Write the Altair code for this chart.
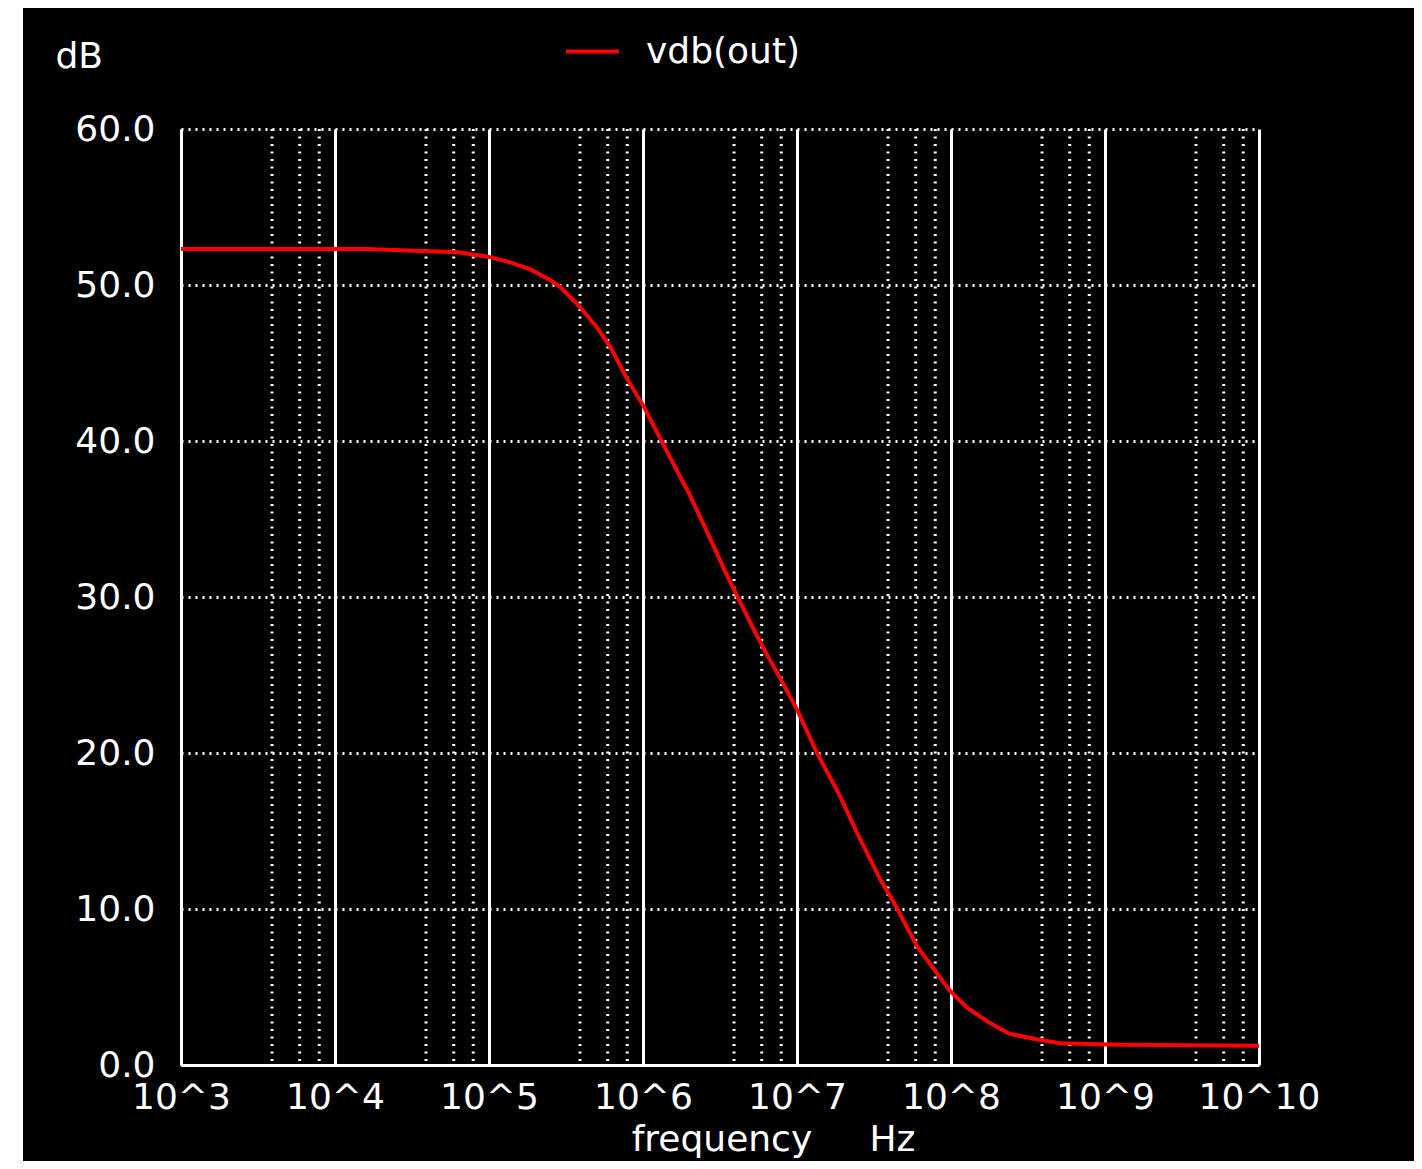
import altair as alt
import pandas as pd

# ---- data (ngspice AC analysis) ----
freq_hz = [1.0e3, 1.58e4, 6.31e4, 1.0e5, 1.32e5, 1.86e5, 2.51e5, 2.88e5, 3.39e5,
           3.89e5, 5.01e5, 6.17e5, 7.76e5, 1.0e6, 1.32e6, 1.66e6, 2.0e6, 2.57e6,
           3.47e6, 4.07e6, 5.25e6, 6.31e6, 7.76e6, 1.0e7, 1.35e7, 1.91e7, 2.45e7,
           3.47e7, 4.27e7, 6.03e7, 9.77e7, 1.26e8, 1.78e8, 2.40e8, 3.80e8, 5.13e8,
           1.26e9, 1.0e10]
vdb_out = [52.3, 52.3, 52.1, 51.8, 51.5, 51.0, 50.3, 49.9, 49.2,
           48.6, 47.3, 46.0, 44.1, 42.3, 40.0, 38.1, 36.6, 34.3,
           31.5, 30.1, 27.9, 26.4, 24.8, 22.8, 20.0, 17.2, 14.9,
           11.9, 10.4, 7.6, 4.8, 3.7, 2.7, 2.0, 1.6, 1.4,
           1.3, 1.24]
series_name = "vdb(out)"

x_tick_values = [1e3, 1e4, 1e5, 1e6, 1e7, 1e8, 1e9, 1e10]
x_tick_labels = ["10^3", "10^4", "10^5", "10^6", "10^7", "10^8", "10^9", "10^10"]
y_tick_values = [0, 10, 20, 30, 40, 50, 60]
minor_multipliers = [3.9, 5.9, 7.9]

FONT = "DejaVu Sans"
FS = 36

df = pd.DataFrame({"freq": freq_hz, "db": vdb_out, "series": series_name})
minor_values = [d * m for d in x_tick_values[:-1] for m in minor_multipliers]

label_expr = "[{}][indexof([{}], datum.value)]".format(
    ",".join("'%s'" % l for l in x_tick_labels),
    ",".join(repr(float(v)) for v in x_tick_values),
)

x_scale = alt.Scale(type="log", domain=[x_tick_values[0], x_tick_values[-1]], nice=False)

left_strip = alt.Chart(alt.Data(values=[{"a": 1}])).mark_rect(
    color="white", clip=False
).encode(
    x=alt.value(-173), x2=alt.value(-158), y=alt.value(-121), y2=alt.value(1032)
)

minor = alt.Chart(pd.DataFrame({"freq": minor_values})).mark_rule(
    color="white", strokeWidth=3, strokeDash=[2, 5.5]
).encode(x=alt.X("freq:Q", scale=x_scale, axis=None))

line = alt.Chart(df).mark_line(strokeWidth=4).encode(
    x=alt.X(
        "freq:Q",
        scale=x_scale,
        axis=alt.Axis(
            values=x_tick_values,
            labelExpr=label_expr,
            grid=True, gridColor="white", gridWidth=3, gridOpacity=1,
            domain=True, domainColor="white", domainWidth=3,
            ticks=False, tickSize=0,
            labelFont=FONT, labelFontSize=FS, labelColor="white",
            labelPadding=15, labelFlush=False, labelOverlap=False,
            title="frequency" + "\u00a0" * 5 + "Hz",
            titleFont=FONT, titleFontSize=FS, titleColor="white",
            titleFontWeight="normal", titleX=592, titleY=85,
            titleAlign="center", titleBaseline="alphabetic",
        ),
    ),
    y=alt.Y(
        "db:Q",
        scale=alt.Scale(domain=[0, 60], nice=False, zero=False),
        axis=alt.Axis(
            values=y_tick_values, format=".1f",
            grid=True, gridColor="white", gridWidth=3, gridOpacity=1,
            gridDash=[2, 5],
            domain=True, domainColor="white", domainWidth=3,
            ticks=False, tickSize=0,
            labelFont=FONT, labelFontSize=FS, labelColor="white",
            labelPadding=26, labelFlush=False, labelOverlap=False,
            title="dB", titleFont=FONT, titleFontSize=FS, titleColor="white",
            titleFontWeight="normal", titleAngle=0, titleX=-126, titleY=-62,
            titleAlign="left", titleBaseline="alphabetic",
        ),
    ),
    color=alt.Color(
        "series:N",
        scale=alt.Scale(domain=[series_name], range=["#ff0000"]),
        legend=alt.Legend(
            title=None, orient="none", legendX=383, legendY=-106,
            symbolType="stroke", symbolSize=2809, symbolStrokeWidth=4,
            labelFont=FONT, labelFontSize=FS, labelColor="white",
            labelOffset=25, padding=0,
        ),
    ),
)

chart = alt.layer(left_strip, minor, line).resolve_axis(x="independent").properties(
    width=1078,
    height=936,
    background="black",
    padding={"left": 173, "top": 121, "right": 155, "bottom": 96},
    autosize=alt.AutoSizeParams(type="none"),
).configure_view(strokeWidth=0)

chart.save("out.html", embed_options={"renderer": "svg", "actions": False})
